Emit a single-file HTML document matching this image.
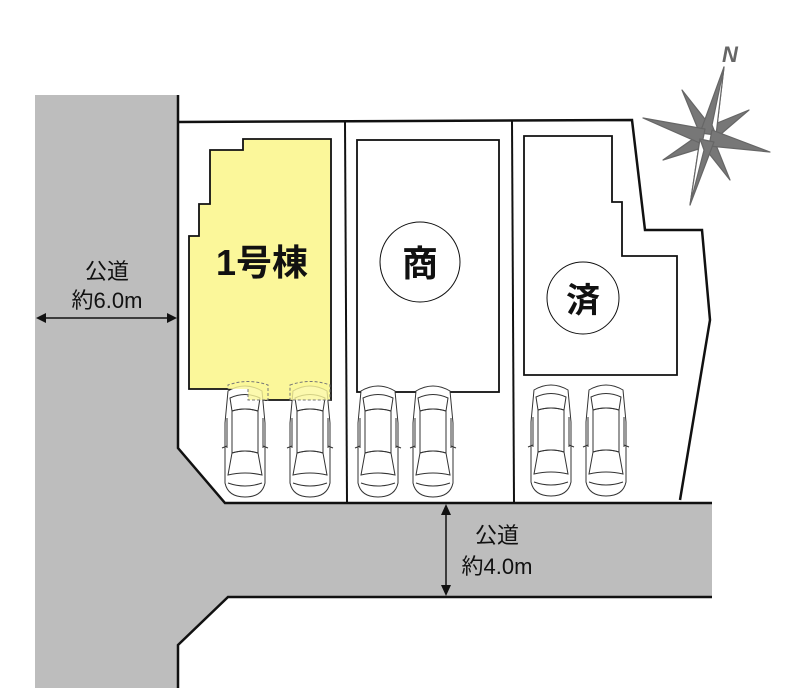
<!DOCTYPE html>
<html><head><meta charset="utf-8"><style>
html,body{margin:0;padding:0;background:#fff;}
svg{display:block;}
text{font-family:"Liberation Sans","Noto Sans CJK JP",sans-serif;}
</style></head><body>
<svg width="800" height="688" viewBox="0 0 800 688" xmlns="http://www.w3.org/2000/svg">
<defs>
<g id="car" fill="#fff" stroke="#333" stroke-width="1">
<path d="M6,8 Q23,-2 40,8 L43,40 L43,100 Q40,114 23,114 Q6,114 3,100 L3,40 Z"/>
<path d="M8,15 Q23,8 38,15 L36,28 Q23,24 10,28 Z" fill="none"/>
<path d="M10,28 Q23,24 36,28 L36,70 Q23,66 10,70 Z" fill="none"/>
<path d="M10,70 Q23,66 36,70 L40,92 Q23,88 6,92 Z" fill="none"/>
<path d="M6,100 Q23,106 40,100" fill="none"/>
<line x1="5" y1="35" x2="5" y2="65"/><line x1="41" y1="35" x2="41" y2="65"/>
<line x1="0" y1="65" x2="5" y2="63"/><line x1="46" y1="65" x2="41" y2="63"/>
</g>
</defs>
<path d="M35,95 L178,95 L178,448 L225,503 L712,503 L712,597 L228,597 L178,645 L178,688 L35,688 Z" fill="#bdbdbd"/>
<path d="M178,95 L178,448 L225,503 L712,503" fill="none" stroke="#111" stroke-width="2.5"/>
<path d="M712,597 L228,597 L178,645 L178,688" fill="none" stroke="#111" stroke-width="2.5"/>
<path d="M178,122 L632,120 L645,230 L702,230 L710,320 L680,500" fill="none" stroke="#111" stroke-width="2.5"/>
<line x1="345" y1="122" x2="347" y2="502" stroke="#111" stroke-width="2"/>
<line x1="512" y1="121" x2="514" y2="502" stroke="#111" stroke-width="2"/>
<path d="M243,139 L331,139 L331,400 L248,400 L248,389 L189,389 L189,236 L199,236 L199,204 L210,204 L210,150 L243,150 Z" fill="#fbf79a" stroke="#111" stroke-width="1.8"/>
<text x="262" y="275" font-size="36" font-weight="bold" text-anchor="middle" fill="#111">1号棟</text>
<rect x="357" y="140" width="142" height="252" fill="#fff" stroke="#111" stroke-width="1.8"/>
<circle cx="420" cy="262" r="40" fill="#fff" stroke="#111" stroke-width="1"/>
<text x="420" y="276" font-size="36" font-weight="bold" text-anchor="middle" fill="#111">商</text>
<path d="M524,136 L612,136 L612,202 L622,202 L622,256 L677,256 L677,375 L524,375 Z" fill="#fff" stroke="#111" stroke-width="1.8"/>
<circle cx="583" cy="298" r="36" fill="#fff" stroke="#111" stroke-width="1"/>
<text x="583" y="312" font-size="34" font-weight="bold" text-anchor="middle" fill="#111">済</text>
<use href="#car" x="222" y="383"/>
<use href="#car" x="287" y="383"/>
<use href="#car" x="355" y="383"/>
<use href="#car" x="410" y="383"/>
<use href="#car" x="528" y="382"/>
<use href="#car" x="583" y="382"/>
<path d="M248,389 L248,400 L268,400 L268,385 Q248,378 228,385 L228,389" fill="#fbf79a" fill-opacity="0.8" stroke="#777" stroke-dasharray="3,2" stroke-width="1"/>
<path d="M290,385 Q310,378 330,385 L330,400 L290,400 Z" fill="#fbf79a" fill-opacity="0.8" stroke="#777" stroke-dasharray="3,2" stroke-width="1"/>
<text x="107" y="279" font-size="22" text-anchor="middle" fill="#111">公道</text>
<text x="107" y="308" font-size="22" text-anchor="middle" fill="#111">約6.0m</text>
<line x1="38" y1="318" x2="175" y2="318" stroke="#111" stroke-width="1.5"/>
<path d="M36,318 L46,313 L46,323 Z M177,318 L167,313 L167,323 Z" fill="#111"/>
<text x="497" y="543" font-size="22" text-anchor="middle" fill="#111">公道</text>
<text x="497" y="574" font-size="22" text-anchor="middle" fill="#111">約4.0m</text>
<line x1="446" y1="506" x2="446" y2="594" stroke="#111" stroke-width="1.5"/>
<path d="M446,504 L441,515 L451,515 Z M446,596 L441,585 L451,585 Z" fill="#111"/>
<g stroke="#666" stroke-width="1.2" stroke-linejoin="round">
<path d="M682,90 L712,128 L700,134 Z" fill="#777"/>
<path d="M749,110 L714,140 L710,126 Z" fill="#777"/>
<path d="M663,160 L700,134 L705,147 Z" fill="#777"/>
<path d="M730,180 L714,140 L703,146 Z" fill="#777"/>
<path d="M724,67 L716,135 L700,133 Z" fill="#777"/>
<path d="M724,67 L716,135 L712,125 Z" fill="#fff"/>
<path d="M643,118 L705,129 L702,144 Z" fill="#777"/>
<path d="M770,152 L709,146 L712,130 Z" fill="#777"/>
<path d="M690,205 L700,139 L714,142 Z" fill="#777"/>
<path d="M690,205 L700,139 L704,150 Z" fill="#fff"/>
</g>
<text x="730" y="62" font-size="22" font-weight="bold" font-style="italic" text-anchor="middle" fill="#666">N</text>
</svg>
</body></html>
